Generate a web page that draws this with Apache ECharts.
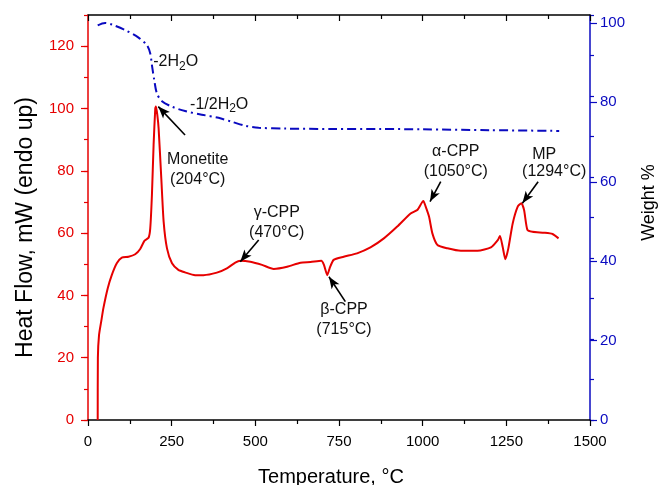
<!DOCTYPE html>
<html>
<head>
<meta charset="utf-8">
<script src="https://cdn.jsdelivr.net/npm/echarts@6/dist/echarts.min.js"></script>
<style>
html, body { margin: 0; padding: 0; background: #fff; }
#chart { width: 664px; height: 485px; }
</style>
</head>
<body>
<div id="chart"></div>
<script>
// DSC heat flow (left axis)
const dscTemp = [29, 29.5, 33, 40, 46, 59, 71, 86, 101, 121, 141, 156, 169, 181, 186, 191, 196, 201, 203, 207, 211, 219, 226, 236, 251, 270, 290, 320, 345, 385, 415, 440, 455, 485, 520, 555, 595, 635, 665, 697, 705, 715, 722, 734, 764, 804, 844, 884, 924, 964, 984, 1002, 1009, 1019, 1029, 1044, 1074, 1114, 1164, 1204, 1225, 1231, 1239, 1247, 1256, 1269, 1284, 1295, 1303, 1313, 1328, 1363, 1388, 1406];
const dscHeat = [0, 20, 27.3, 32, 35.9, 42.3, 46.5, 50.3, 52.1, 52.4, 53.2, 54.9, 57.6, 58.5, 61.5, 72.2, 88.3, 100, 100.6, 98, 93.6, 77.6, 63.7, 55.1, 50.3, 48.2, 47.4, 46.5, 46.5, 47.3, 48.7, 50.5, 51.1, 50.8, 49.8, 48.5, 49.2, 50.5, 50.7, 51.1, 49.8, 46.5, 48.7, 51.4, 52.4, 53.5, 55.4, 58.3, 62.1, 66.3, 67.4, 70.3, 68.5, 65.3, 59.9, 56.2, 55.1, 54.3, 54.3, 55.4, 57.8, 59.1, 55.6, 51.6, 55.1, 63.1, 68.5, 69.6, 67.4, 61.0, 60.4, 60.1, 59.7, 58.3];

// TGA weight (right axis)
const tgaTemp = [29, 51, 71, 111, 151, 176, 186, 191, 198, 206, 221, 251, 290, 340, 390, 430, 470, 510, 590, 730, 876, 1000, 1200, 1408];
const tgaWeight = [99.4, 100, 99.6, 98.2, 96.3, 94.4, 92.3, 89.4, 85.6, 82.2, 80.3, 78.9, 77.8, 76.9, 76.1, 75.1, 74.1, 73.6, 73.4, 73.3, 73.3, 73.2, 73.0, 72.8];

// annotations: text at [temp, heat flow]
const noteText = ['-2H{sub|2}O', '-1/2H{sub|2}O', 'Monetite\n(204°C)', 'γ-CPP\n(470°C)', 'β-CPP\n(715°C)', 'α-CPP\n(1050°C)', 'MP', '(1294°C)'];
const notePos = [[262, 114.9], [392, 101.4], [328, 80.4], [564, 63.4], [765, 32.3], [1099, 83.1], [1363, 85.1], [1393, 79.7]];
// arrows: [tail, tip]
const arrows = [
    [[290, 91.5], [210, 100.6]],
    [[510, 57.8], [455, 50.8]],
    [[769, 38], [720, 46]],
    [[1054, 76.5], [1022, 70.1]],
    [[1345, 76.5], [1298, 69.6]]
];

const RED = '#e60000';
const BLUE = '#0a0ac0';
const FONT = '"Liberation Sans", Arial, sans-serif';

const chart = echarts.init(document.getElementById('chart'));

const xBase = {
    type: 'value',
    min: 0,
    max: 1500,
    interval: 250,
    splitLine: { show: false },
    axisLine: { show: true, onZero: false, lineStyle: { color: '#000', width: 1.5 } },
};

// short ticks every 10 units, drawn by an extra axis without labels
function minorAxis(pos, max, color) {
    return {
        type: 'value',
        position: pos,
        min: 0,
        max: max,
        interval: 10,
        splitLine: { show: false },
        axisLine: { show: false, onZero: false },
        axisTick: { show: true, length: 4, lineStyle: { color: color, width: 1.2 } },
        axisLabel: { show: false }
    };
}

const option = {
    animation: false,
    textStyle: { fontFamily: FONT },
    grid: { left: 88, right: 74, top: 15, bottom: 65, containLabel: false, outerBoundsMode: 'none' },
    xAxis: [
        Object.assign({}, xBase, {
            position: 'bottom',
            name: 'Temperature, °C',
            nameLocation: 'middle',
            nameGap: 47,
            nameTextStyle: { fontSize: 20, color: '#000', fontFamily: FONT, padding: [0, 16, 0, 0] },
            axisTick: { show: true, inside: false, length: 6, lineStyle: { color: '#000', width: 1.2 } },
            minorTick: { show: true, splitNumber: 2, length: 4, lineStyle: { color: '#000', width: 1.2 } },
            axisLabel: { fontSize: 15, color: '#000', margin: 14, fontFamily: FONT, formatter: v => String(v) }
        }),
        Object.assign({}, xBase, {
            position: 'top',
            axisTick: { show: true, inside: true, length: 6, lineStyle: { color: '#000', width: 1.2 } },
            minorTick: { show: true, splitNumber: 2, length: 4, lineStyle: { color: '#000', width: 1.2 } },
            axisLabel: { show: false }
        })
    ],
    yAxis: [
        {
            type: 'value',
            position: 'left',
            min: 0,
            max: 130,
            interval: 20,
            splitLine: { show: false },
            name: 'Heat Flow, mW (endo up)',
            nameLocation: 'middle',
            nameRotate: 90,
            nameGap: 51,
            nameTextStyle: { fontSize: 23, color: '#000', fontFamily: FONT, padding: [0, 20, 0, 0] },
            axisLine: { show: true, onZero: false, lineStyle: { color: RED, width: 1.5 } },
            axisTick: { show: true, length: 7, lineStyle: { color: RED, width: 1.2 } },
            axisLabel: { fontSize: 15, color: RED, margin: 14, showMaxLabel: false, fontFamily: FONT }
        },
        {
            type: 'value',
            position: 'right',
            min: 0,
            max: 102,
            interval: 20,
            splitLine: { show: false },
            name: 'Weight %',
            nameLocation: 'middle',
            nameRotate: 90,
            nameGap: 50,
            nameTextStyle: { fontSize: 18, color: '#000', fontFamily: FONT, padding: [0, 0, 0, 30] },
            axisLine: { show: true, onZero: false, lineStyle: { color: BLUE, width: 1.5 } },
            axisTick: { show: true, length: 7, lineStyle: { color: BLUE, width: 1.2 } },
            axisLabel: { fontSize: 15, color: BLUE, margin: 10, showMaxLabel: false, fontFamily: FONT }
        },
        minorAxis('left', 130, RED),
        minorAxis('right', 100, BLUE)
    ],
    series: [
        {
            name: 'TGA',
            type: 'line',
            yAxisIndex: 1,
            showSymbol: false,
            smooth: 0.3,
            data: tgaTemp.map((t, i) => [t, tgaWeight[i]]),
            lineStyle: { color: BLUE, width: 2, type: [9, 4, 2, 4] },
            z: 3
        },
        {
            name: 'DSC',
            type: 'line',
            yAxisIndex: 0,
            showSymbol: false,
            smooth: 0.2,
            data: dscTemp.map((t, i) => [t, dscHeat[i]]),
            lineStyle: { color: RED, width: 2 },
            z: 4,
            markPoint: {
                symbol: 'circle',
                symbolSize: 0,
                silent: true,
                label: {
                    show: true,
                    position: 'inside',
                    color: '#111',
                    fontSize: 16,
                    lineHeight: 20,
                    fontFamily: FONT,
                    rich: {
                        sub: { fontSize: 12, padding: [9, 0, 0, 0], fontFamily: FONT, color: '#111' }
                    }
                },
                data: notePos.map((p, i) => ({
                    coord: p,
                    label: { formatter: noteText[i] }
                }))
            },
            markLine: {
                silent: true,
                symbol: ['none', 'arrow'],
                symbolSize: [7, 12],
                label: { show: false },
                lineStyle: { color: '#000', width: 1.6, type: 'solid' },
                itemStyle: { color: '#000' },
                data: arrows.map(a => [{ coord: a[0] }, { coord: a[1] }])
            }
        }
    ]
};

chart.setOption(option);
</script>
</body>
</html>
